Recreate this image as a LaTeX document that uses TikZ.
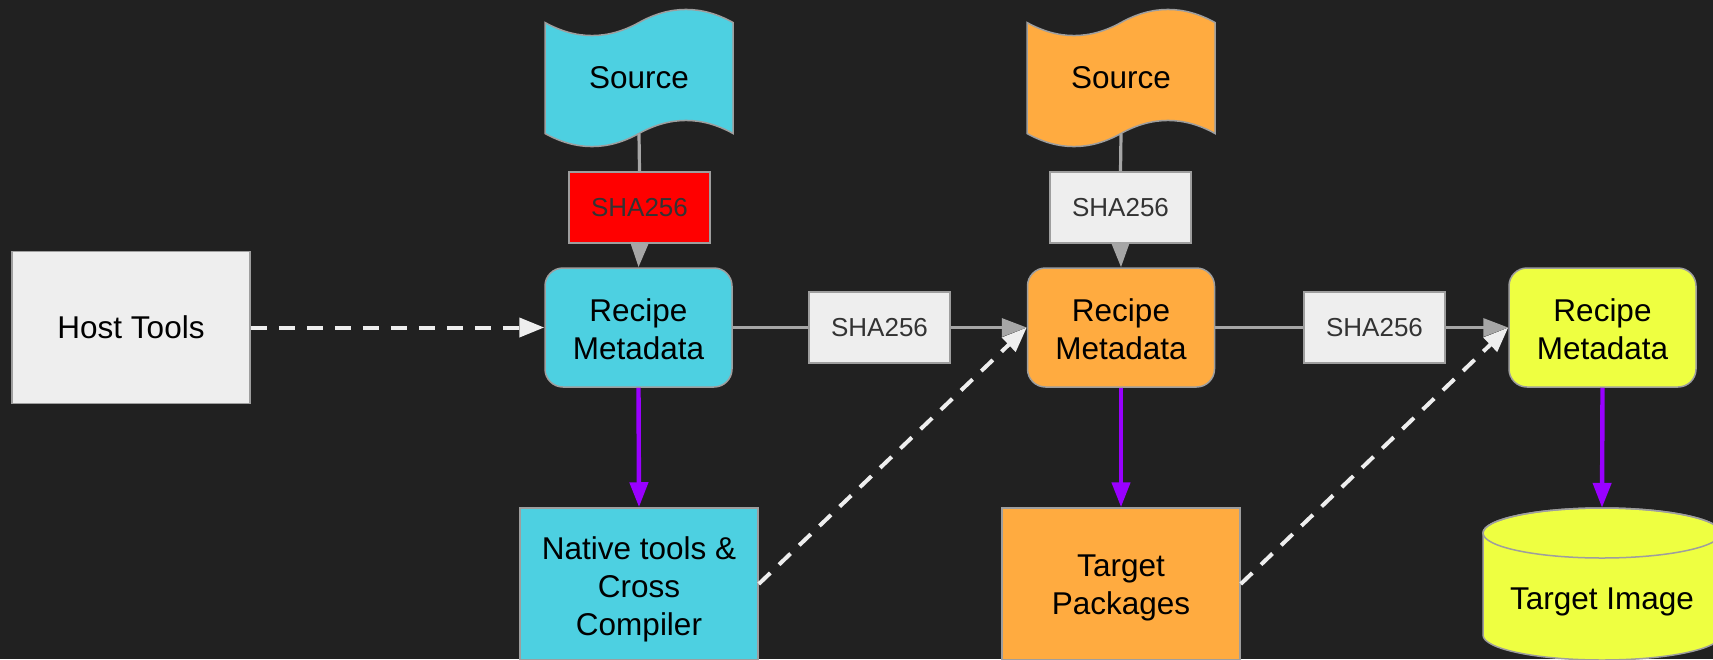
\documentclass[tikz,border=0pt]{standalone}
\usepackage{fontspec}
\setmainfont{Liberation Sans}
\usetikzlibrary{arrows.meta}

\definecolor{bgc}{HTML}{212121}
\definecolor{cyanc}{HTML}{4DD0E1}
\definecolor{orangec}{HTML}{FFAB40}
\definecolor{limec}{HTML}{EEFF41}
\definecolor{greyc}{HTML}{EEEEEE}
\definecolor{redc}{HTML}{FF0000}
\definecolor{bordc}{HTML}{9E9E9E}
\definecolor{linkc}{HTML}{A6A6A6}
\definecolor{purplec}{HTML}{9900FF}
\definecolor{shatext}{HTML}{333333}

\tikzset{
  tapeline/.style={draw=bordc,line width=1.5pt},
  bigtext/.style={font=\fontsize{31.5}{38}\selectfont, text=black, align=center, inner sep=0pt},
  shabox/.style={draw=bordc, line width=1.5pt, fill=greyc, minimum width=141pt, minimum height=71pt,
    inner sep=0pt, font=\fontsize{26}{31}\selectfont, text=shatext},
  recipe/.style={draw=bordc, line width=1.5pt, fill=#1, rounded corners=18pt,
    minimum width=187pt, minimum height=119pt, inner sep=0pt},
  bigbox/.style={draw=bordc, line width=1.5pt, fill=#1, minimum width=238pt, minimum height=152pt,
    inner sep=0pt},
  srclabel/.style={bigtext, minimum width=188pt, minimum height=111pt},
  link/.style={draw=linkc, line width=3.2pt},
  linkarrow/.style={link, -{Triangle[length=25pt,width=18pt]}},
  feed/.style={draw=greyc, line width=4pt, dash pattern=on 16pt off 12pt,
    -{Triangle[length=25pt,width=19pt]}},
  build/.style={draw=purplec, line width=4.4pt, -{Triangle[length=25pt,width=18pt]}},
}

% wavy "tape" outline of a source node, 188 wide and 140 high from its top-left corner
\newcommand\tapeoutline[2]{%
  \begin{scope}[shift={(#1)}]
    \path[tapeline,fill=#2]
      (0,14.5) .. controls (31.33,31.9) and (62.67,31.9) .. (94,14.5)
      .. controls (125.33,-2.9) and (156.67,-2.9) .. (188,14.5)
      -- (188,125.5) .. controls (156.67,108.1) and (125.33,108.1) .. (94,125.5)
      .. controls (62.67,142.9) and (31.33,142.9) .. (0,125.5) -- cycle;
  \end{scope}}

\begin{document}
\begin{tikzpicture}[x=1pt,y=-1pt]
\fill[bgc] (0,0) rectangle (1713,659);
\useasboundingbox (0,0) rectangle (1713,659);

% source tapes
\tapeoutline{545,8}{cyanc}
\tapeoutline{1027,8}{orangec}
\node[srclabel] (src1) at (639,78) {Source};
\node[srclabel] (src2) at (1121,78) {Source};

% target image cylinder
\path[draw=bordc,line width=1.5pt,fill=limec]
  (1483,533) -- (1483,635) arc[start angle=180,end angle=0,x radius=119,y radius=25]
  -- (1721,533) arc[start angle=0,end angle=-180,x radius=119,y radius=25] -- cycle;
\draw[bordc,line width=1.5pt] (1602,533) ellipse[x radius=119,y radius=25];
\node[inner sep=0pt, minimum width=238pt, minimum height=152pt] (img) at (1602,584) {};
\node[bigtext, anchor=base] (imgtxt) at (1602,609) {Target Image};

% boxes
\node[bigbox=greyc, bigtext] (host) at (131,327.5) {Host Tools};
\node[recipe=cyanc] (rec1) at (638.5,327.5) {};
\node[recipe=orangec] (rec2) at (1121,327.5) {};
\node[recipe=limec] (rec3) at (1602.5,327.5) {};
\node[bigbox=cyanc] (native) at (639,584) {};
\node[bigbox=orangec] (pkgs) at (1121,584) {};

% box captions
\node[bigtext, anchor=north] (rec1t) at (638.5,298.6) {Recipe\\Metadata};
\node[bigtext, anchor=north] (rec2t) at (1121,298.6) {Recipe\\Metadata};
\node[bigtext, anchor=north] (rec3t) at (1602.5,298.6) {Recipe\\Metadata};
\node[bigtext, anchor=north] (nativet) at (639,536) {Native tools \&\\Cross\\Compiler};
\node[bigtext, anchor=north] (pkgst) at (1121,555) {Target\\Packages};

% checksum labels
\node[shabox, fill=redc] (sha1) at (639.5,207.5) {SHA256};
\node[shabox] (sha2) at (1120.5,207.5) {SHA256};
\node[shabox] (shae1) at (879.5,327.5) {SHA256};
\node[shabox] (shae2) at (1374.5,327.5) {SHA256};

% checksum links
\draw[link] (src1.south) -- (sha1.north);
\draw[linkarrow] (sha1.south) -- (rec1.north);
\draw[link] (src2.south) -- (sha2.north);
\draw[linkarrow] (sha2.south) -- (rec2.north);
\draw[link] (rec1.east) -- (shae1.west);
\draw[linkarrow] (shae1.east) -- (rec2.west);
\draw[link] (rec2.east) -- (shae2.west);
\draw[linkarrow] (shae2.east) -- (rec3.west);

% build outputs
\draw[build] (rec1.south) -- (native.north);
\draw[build] (rec2.south) -- (pkgs.north);
\draw[build] (rec3.south) -- (img.north);

% tool feeds
\draw[feed] (host.east) -- (rec1.west);
\draw[feed] (native.east) -- (rec2.west);
\draw[feed] (pkgs.east) -- (rec3.west);
\end{tikzpicture}
\end{document}
